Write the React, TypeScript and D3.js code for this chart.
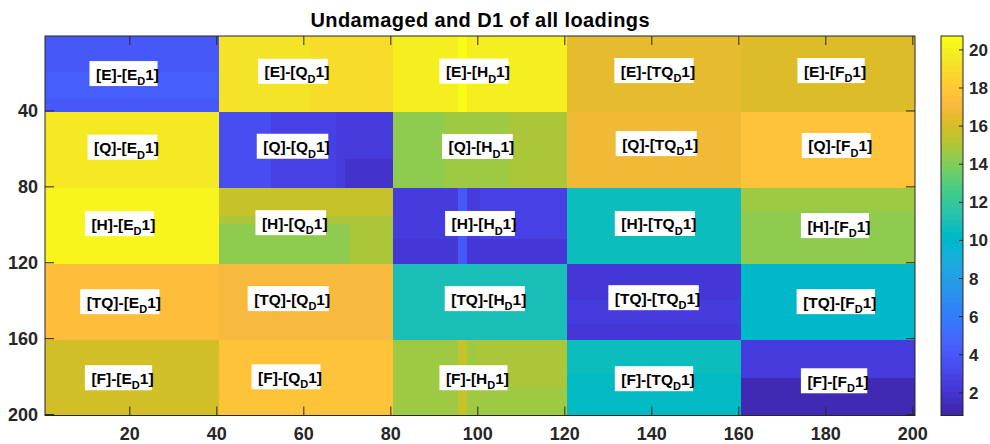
import React, { useEffect, useRef } from "react";
import * as d3 from "d3";

// ---------- data ----------
const rowNames = ["E", "Q", "H", "TQ", "F"];
const colNames = ["E", "Q", "H", "TQ", "F"];
const blockSize = 40;
// block values (rows: E,Q,H,TQ,F ; cols: E_D,Q_D,H_D,TQ_D,F_D)
const rowE = [4.1, 19.4, 19.9, 16.6, 16.2];
const rowQ = [19.7, 2.9, 14.6, 16.9, 17.7];
const rowH = [20.2, 15.0, 2.5, 10.6, 14.3];
const rowTQ = [17.6, 17.3, 11.0, 2.2, 10.0];
const rowF = [15.9, 17.8, 14.6, 10.2, 2.5];
const blockValues = [rowE, rowQ, rowH, rowTQ, rowF];
// sub-regions: [rowStart,rowEnd,colStart,colEnd,value]
const patches: number[][] = [
  [20, 33, 1, 40, 4.5],
  [1, 40, 62, 80, 19.0],
  [1, 40, 96, 97, 20.6],
  [41, 80, 41, 52, 3.4],
  [41, 80, 68, 80, 2.5],
  [66, 80, 70, 80, 2.0],
  [41, 80, 81, 92, 14.3],
  [41, 80, 108, 120, 14.9],
  [81, 95, 41, 80, 15.6],
  [100, 120, 41, 70, 14.5],
  [81, 120, 101, 120, 2.9],
  [108, 120, 81, 120, 2.2],
  [81, 120, 96, 97, 4.0],
  [81, 92, 161, 200, 14.8],
  [140, 152, 121, 160, 2.6],
  [161, 185, 100, 120, 15.0],
  [161, 200, 96, 97, 15.6],
  [161, 178, 121, 160, 10.5],
  [181, 200, 161, 200, 1.4],
];
const xTicks = [20, 40, 60, 80, 100, 120, 140, 160, 180, 200];
const yTicks = [40, 80, 120, 160, 200];
const cTicks = [2, 4, 6, 8, 10, 12, 14, 16, 18, 20];
const cLimits = [0.81, 20.73];
// label box centres in data units [x, y]
const labelCentres: number[][][] = [
  [[18.55, 20.3], [57.5, 19.1], [99.1, 19.0], [140.5, 18.7], [181.2, 18.7]],
  [[18.3, 59.1], [57.4, 58.6], [99.9, 58.7], [141.0, 57.2], [182.4, 58.2]],
  [[17.6, 99.4], [57.0, 98.9], [100.5, 99.3], [140.7, 99.3], [182.1, 100.4]],
  [[17.7, 140.5], [56.4, 138.9], [101.6, 138.9], [140.4, 138.4], [182.3, 140.5]],
  [[17.4, 180.6], [55.9, 180.1], [99.0, 180.6], [140.5, 181.1], [181.9, 182.2]],
];

// parula colormap (64 entries)
const parula = [
  [0.2422, 0.1504, 0.6603], [0.2504, 0.165, 0.7076], [0.2578, 0.1818, 0.7511], [0.2647, 0.1978, 0.7952],
  [0.2706, 0.2147, 0.8364], [0.2751, 0.2342, 0.871], [0.2783, 0.2559, 0.8991], [0.2803, 0.2782, 0.9221],
  [0.2813, 0.3006, 0.9414], [0.281, 0.3228, 0.9579], [0.2795, 0.3447, 0.9717], [0.276, 0.3667, 0.9829],
  [0.2699, 0.3892, 0.9906], [0.2602, 0.4123, 0.9952], [0.244, 0.4358, 0.9988], [0.2206, 0.4603, 0.9973],
  [0.1963, 0.4847, 0.9892], [0.1834, 0.5074, 0.9798], [0.1786, 0.5289, 0.9682], [0.1764, 0.5499, 0.952],
  [0.1687, 0.5703, 0.9359], [0.154, 0.5902, 0.9218], [0.146, 0.6091, 0.9079], [0.138, 0.6276, 0.8973],
  [0.1248, 0.6459, 0.8883], [0.1113, 0.6635, 0.8763], [0.0952, 0.6798, 0.8598], [0.0689, 0.6948, 0.8394],
  [0.0297, 0.7082, 0.8163], [0.0036, 0.7203, 0.7917], [0.0067, 0.7312, 0.766], [0.0433, 0.7411, 0.7394],
  [0.0964, 0.75, 0.712], [0.1408, 0.7584, 0.6842], [0.1717, 0.767, 0.6554], [0.1938, 0.7758, 0.6251],
  [0.2161, 0.7843, 0.5923], [0.247, 0.7918, 0.5567], [0.2906, 0.7973, 0.5188], [0.3406, 0.8008, 0.4789],
  [0.3909, 0.8029, 0.4354], [0.4456, 0.8024, 0.3909], [0.5044, 0.7993, 0.348], [0.5616, 0.7942, 0.3045],
  [0.6174, 0.7876, 0.2612], [0.672, 0.7793, 0.2227], [0.7242, 0.7698, 0.191], [0.7738, 0.7598, 0.1646],
  [0.8203, 0.7498, 0.1535], [0.8634, 0.7406, 0.1596], [0.9035, 0.733, 0.1774], [0.9393, 0.7288, 0.21],
  [0.9728, 0.7298, 0.2394], [0.9956, 0.7434, 0.2371], [0.997, 0.7659, 0.2199], [0.9952, 0.7893, 0.2028],
  [0.9892, 0.8136, 0.1885], [0.9786, 0.8386, 0.1766], [0.9676, 0.8639, 0.1643], [0.961, 0.889, 0.1537],
  [0.9597, 0.9135, 0.1423], [0.9628, 0.9373, 0.1265], [0.9691, 0.9606, 0.1064], [0.9769, 0.9839, 0.0805],
];

const FONT = "'Liberation Sans', Arial, Helvetica, sans-serif";
const AX = "#262626";

export default function App() {
  const ref = useRef<SVGSVGElement>(null);
  useEffect(() => {
    const svg = d3.select(ref.current);
    svg.selectAll("*").remove();
    const x = d3.scaleLinear().domain([0.5, 200.5]).range([45, 915]);
    const y = d3.scaleLinear().domain([0.5, 200.5]).range([36, 415.5]);
    const cb = d3.scaleLinear().domain(cLimits).range([415.5, 36]);
    const toColor = (v: number) => {
      const i = Math.max(0, Math.min(63, Math.floor(((v - cLimits[0]) / (cLimits[1] - cLimits[0])) * 64)));
      const c = parula[i];
      return d3.rgb(c[0] * 255, c[1] * 255, c[2] * 255).toString();
    };

    const g = svg.append("g");
    const blocks: { r: number; c: number; v: number }[] = [];
    blockValues.forEach((row, r) => row.forEach((v, c) => blocks.push({ r, c, v })));
    g.selectAll("rect.block")
      .data(blocks)
      .join("rect")
      .attr("x", (d) => x(d.c * blockSize + 0.5))
      .attr("y", (d) => y(d.r * blockSize + 0.5))
      .attr("width", x(blockSize + 0.5) - x(0.5))
      .attr("height", y(blockSize + 0.5) - y(0.5))
      .attr("fill", (d) => toColor(d.v))
      .attr("shape-rendering", "crispEdges");
    g.selectAll("rect.patch")
      .data(patches)
      .join("rect")
      .attr("x", (d) => x(d[2] - 0.5))
      .attr("y", (d) => y(d[0] - 0.5))
      .attr("width", (d) => x(d[3] + 0.5) - x(d[2] - 0.5))
      .attr("height", (d) => y(d[1] + 0.5) - y(d[0] - 0.5))
      .attr("fill", (d) => toColor(d[4]))
      .attr("shape-rendering", "crispEdges");

    // labels
    const lg = svg.append("g");
    rowNames.forEach((rn, r) => {
      colNames.forEach((cn, c) => {
        const [dxv, dyv] = labelCentres[r][c];
        const cx = x(dxv);
        const cy = y(dyv);
        const grp = lg.append("g");
        const rect = grp.append("rect").attr("fill", "#fff");
        const t = grp
          .append("text")
          .attr("font-family", FONT)
          .attr("font-weight", "bold")
          .attr("font-size", 15.5)
          .attr("fill", "#000")
          .attr("y", cy + 6);
        t.append("tspan").text(`[${rn}]-[${cn}`);
        t.append("tspan").attr("font-size", 11).attr("dy", 5.5).text("D");
        t.append("tspan").attr("dy", -5.5).text("1]");
        const w = (t.node() as SVGTextElement).getBBox().width;
        const L = cx + 4 - w / 2;
        t.attr("x", L);
        rect.attr("x", L - 6.5).attr("y", cy - 12.5).attr("width", w + 5).attr("height", 25);
      });
    });

    // axes box and ticks
    const ax = svg.append("g").attr("stroke", AX).attr("fill", "none");
    ax.append("rect").attr("x", 45).attr("y", 36).attr("width", 870).attr("height", 379.5).attr("stroke-width", 1);
    const tl = 9;
    xTicks.forEach((t) => {
      ax.append("line").attr("x1", x(t)).attr("x2", x(t)).attr("y1", 415.5).attr("y2", 415.5 - tl);
      ax.append("line").attr("x1", x(t)).attr("x2", x(t)).attr("y1", 36).attr("y2", 36 + tl);
    });
    yTicks.forEach((t) => {
      ax.append("line").attr("x1", 45).attr("x2", 45 + tl).attr("y1", y(t)).attr("y2", y(t));
      ax.append("line").attr("x1", 915).attr("x2", 915 - tl).attr("y1", y(t)).attr("y2", y(t));
    });
    const tx = svg.append("g").attr("font-family", FONT).attr("font-weight", "bold").attr("fill", AX);
    tx.selectAll("text.xt")
      .data(xTicks)
      .join("text")
      .attr("x", (d) => x(d))
      .attr("y", 440)
      .attr("text-anchor", "middle")
      .attr("font-size", 18)
      .text((d) => d);
    tx.selectAll("text.yt")
      .data(yTicks)
      .join("text")
      .attr("x", 38)
      .attr("y", (d) => y(d) + 6.5)
      .attr("text-anchor", "end")
      .attr("font-size", 18)
      .text((d) => d);

    // title
    svg
      .append("text")
      .attr("x", 480)
      .attr("y", 27)
      .attr("text-anchor", "middle")
      .attr("font-family", FONT)
      .attr("font-weight", "bold")
      .attr("font-size", 20)
      .attr("textLength", 339)
      .attr("fill", "#000")
      .text("Undamaged and D1 of all loadings");

    // colorbar
    const cbx = 941,
      cbw = 22;
    const bands = d3.range(64);
    const step = (cLimits[1] - cLimits[0]) / 64;
    svg
      .append("g")
      .selectAll("rect")
      .data(bands)
      .join("rect")
      .attr("x", cbx)
      .attr("width", cbw)
      .attr("y", (i) => cb(cLimits[0] + (i + 1) * step))
      .attr("height", (i) => cb(cLimits[0] + i * step) - cb(cLimits[0] + (i + 1) * step) + 0.5)
      .attr("fill", (i) => {
        const c = parula[i];
        return d3.rgb(c[0] * 255, c[1] * 255, c[2] * 255).toString();
      })
      .attr("shape-rendering", "crispEdges");
    const cg = svg.append("g").attr("stroke", AX).attr("fill", "none");
    cg.append("rect").attr("x", cbx).attr("y", 36).attr("width", cbw).attr("height", 379.5);
    cTicks.forEach((t) => {
      cg.append("line").attr("x1", cbx + cbw).attr("x2", cbx + cbw - 4).attr("y1", cb(t)).attr("y2", cb(t));
    });
    svg
      .append("g")
      .attr("font-family", FONT)
      .attr("font-weight", "bold")
      .attr("fill", AX)
      .selectAll("text")
      .data(cTicks)
      .join("text")
      .attr("x", 969)
      .attr("y", (d) => cb(d) + 6)
      .attr("font-size", 17)
      .text((d) => d);
  }, []);
  return (
    <svg
      ref={ref}
      width={990}
      height={444}
      style={{ position: "absolute", left: 0, top: 0, background: "#fff" }}
    />
  );
}
